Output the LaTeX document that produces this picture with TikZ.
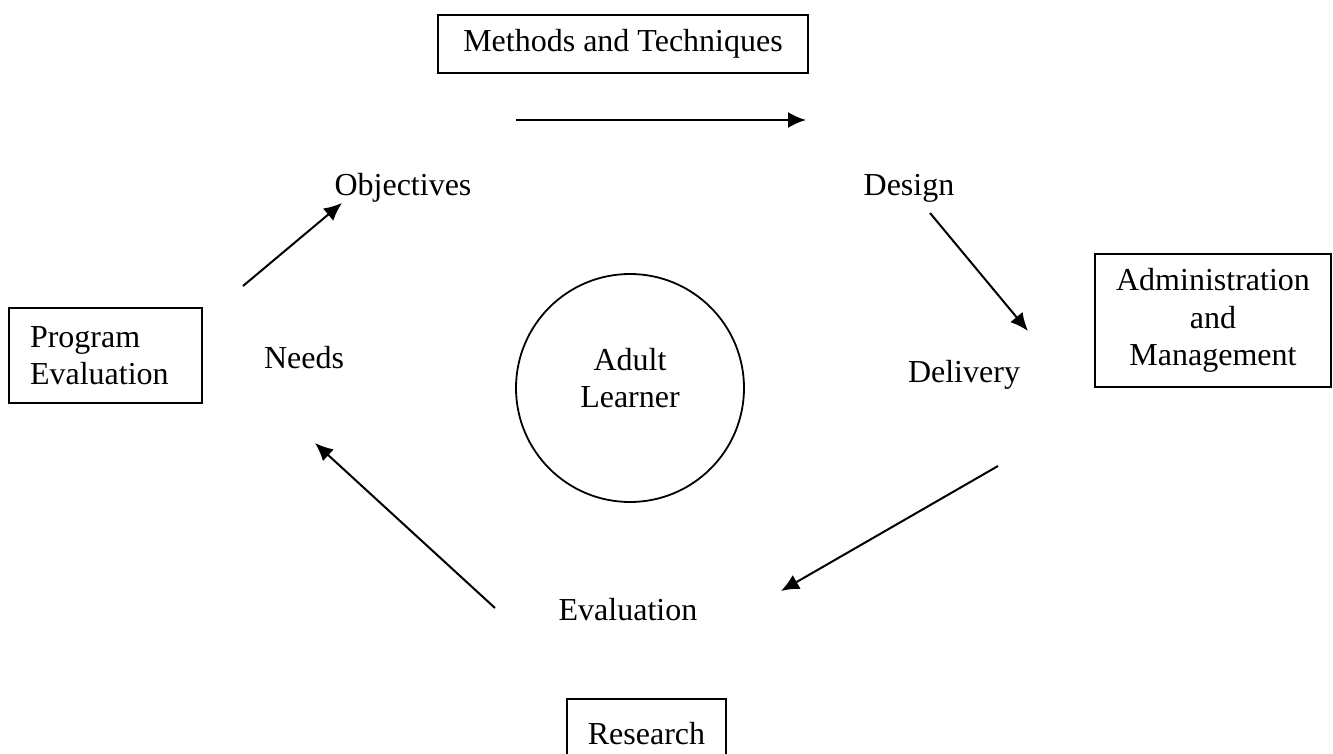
\documentclass[tikz,border=0pt]{standalone}
\usepackage{fontspec}
\setmainfont{Liberation Serif}
\usetikzlibrary{arrows.meta}

\begin{document}
\begin{tikzpicture}[x=0.5pt,y=-0.5pt,font=\fontsize{16pt}{18.6pt}\selectfont]
	% `stage' is used for the plain labels round the cycle.
	% `area' is used for the framed boxes outside it.
	\tikzstyle{stage} = [anchor=base,inner sep=0pt]
	\tikzstyle{area} = [draw,line width=1pt,align=center,inner sep=0pt]
	\tikzstyle{learner} = [draw,circle,line width=0.9pt,minimum size=114pt,inner sep=0pt,align=center]
	\tikzstyle{flow} = [line width=1pt,-{Latex[length=9pt,width=8pt]}]
	\useasboundingbox (0,0) rectangle (1333,754);
	%
	% Framed boxes.
	\node[area,minimum width=185pt,minimum height=29pt] (methods) at (623,44) {Methods and Techniques};
	\node[area,align=left,text width=75.5pt,inner xsep=10.5pt,minimum height=47.5pt] (program) at (105.5,355.5) {Program\\Evaluation};
	\node[area,minimum width=118pt,minimum height=66.5pt] (admin) at (1213,320.5) {Administration\\and\\Management};
	\node[area,minimum width=79.5pt,minimum height=35pt] (research) at (646.5,734) {Research};
	% Centre (the rule lifts the two lines a little).
	\node[learner] (learner) at (630,388) {Adult\\Learner\rule[-10pt]{0pt}{10pt}};
	% Stages of the cycle.
	\node[stage] (objectives) at (403,196) {Objectives};
	\node[stage] (design) at (909,196) {Design};
	\node[stage] (delivery) at (964,382) {Delivery};
	\node[stage] (evaluation) at (628,620) {Evaluation};
	\node[stage] (needs) at (304,368) {Needs};
	% Arrow ends.
	\coordinate (top0) at (516,120);
	\coordinate (top1) at (806,120);
	\coordinate (des0) at (930,213);
	\coordinate (des1) at (1028,331);
	\coordinate (del0) at (998,466);
	\coordinate (del1) at (781,591);
	\coordinate (eva0) at (495,608);
	\coordinate (eva1) at (315,443);
	\coordinate (nee0) at (243,286);
	\coordinate (nee1) at (342,203);
	% Draw arrows.
	\draw[flow] (top0) -- (top1);
	\draw[flow] (des0) -- (des1);
	\draw[flow] (del0) -- (del1);
	\draw[flow] (eva0) -- (eva1);
	\draw[flow] (nee0) -- (nee1);
%
\end{tikzpicture}
\end{document}
